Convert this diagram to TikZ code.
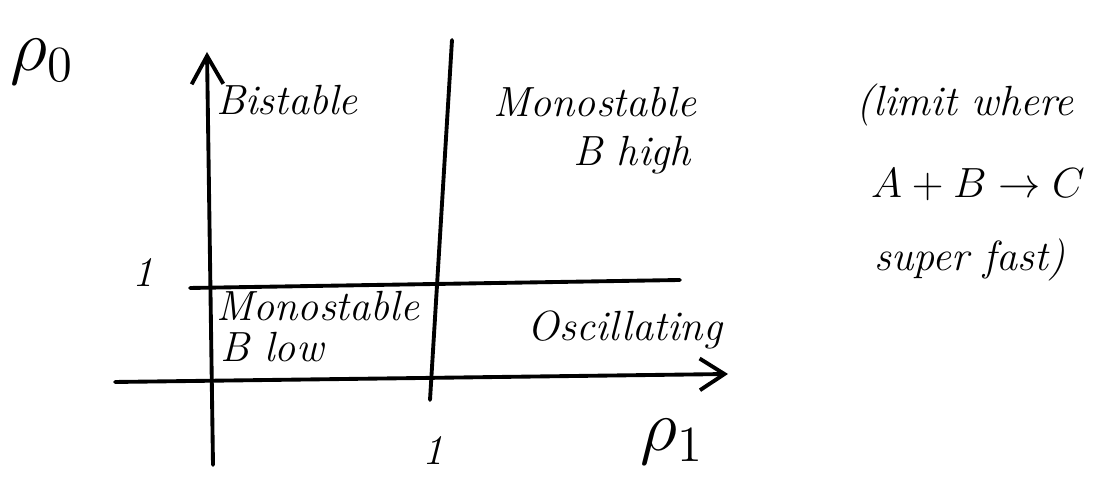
\documentclass[tikz,border=0pt]{standalone}
\usetikzlibrary{arrows.meta}

\tikzset{
  hand/.style={line width=1.1pt, line cap=round},
  lbl/.style={font=\fontsize{12}{14}\selectfont\itshape},
  sym/.style={font=\fontsize{22}{26}\selectfont},
}

\begin{document}
\begin{tikzpicture}[x=0.01cm, y=-0.01cm]
\useasboundingbox (0,0) rectangle (1117,480);

% ---- axes ----
\coordinate (yb) at (213,465);
\coordinate (yt) at (207,52);
\coordinate (xl) at (115,382);
\coordinate (xr) at (728,374);
\draw[hand, -{Straight Barb[length=8pt, width=9pt]}] (yb) -- (yt);
\draw[hand, -{Straight Barb[length=7pt, width=9pt]}] (xl) -- (xr);

% ---- boundaries at 1 ----
\coordinate (vt) at (452,40);
\coordinate (vb) at (430,400);
\coordinate (hl) at (190,288);
\coordinate (hr) at (680,280);
\draw[hand] (vt) -- (vb);
\draw[hand] (hl) -- (hr);

% ---- axis labels ----
\node[sym] (rho0) at (42,62) {$\rho_0$};
\node[sym] (rho1) at (672,442) {$\rho_1$};
\node[lbl] (one0) at (143,272) {1};
\node[lbl] (one1) at (433,450) {1};

% ---- regions ----
\node[lbl] (bist) at (287,100) {Bistable};
\node[lbl] (monoA) at (595,102) {Monostable};
\node[lbl] (bhigh) at (632,155) {B high};
\node[lbl] (monoB) at (318,306) {Monostable};
\node[lbl] (blow) at (272,347) {B low};
\node[lbl] (osc) at (625,330) {Oscillating};

% ---- note ----
\node[lbl] (note1) at (965,105) {(limit where};
\node[lbl] (note2) at (978,185) {$A+B\to C$};
\node[lbl] (note3) at (970,260) {super fast)};

\end{tikzpicture}
\end{document}
